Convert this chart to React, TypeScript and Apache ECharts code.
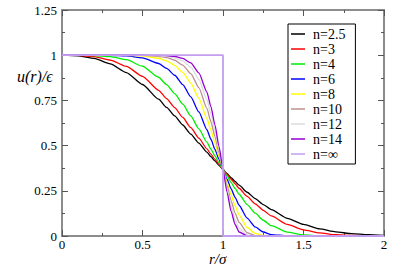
import React, { useEffect, useRef } from "react";
import * as echarts from "echarts";

const rValues = [0, 0.1, 0.2, 0.3, 0.4, 0.5, 0.6, 0.65, 0.7, 0.75, 0.8, 0.85, 0.9, 0.925, 0.95, 0.975, 1.0, 1.025, 1.05, 1.075, 1.1, 1.15, 1.2, 1.25, 1.3, 1.4, 1.5, 1.6, 1.7, 1.8, 1.9, 2.0];

const uN25 = [1, 0.997, 0.982, 0.952, 0.904, 0.838, 0.757, 0.711, 0.664, 0.614, 0.564, 0.514, 0.464, 0.439, 0.415, 0.391, 0.368, 0.345, 0.323, 0.302, 0.281, 0.242, 0.207, 0.174, 0.146, 0.098, 0.064, 0.039, 0.023, 0.013, 0.007, 0.003];
const uN3 = [1, 0.999, 0.992, 0.973, 0.938, 0.883, 0.806, 0.76, 0.71, 0.656, 0.599, 0.541, 0.482, 0.453, 0.424, 0.396, 0.368, 0.341, 0.314, 0.289, 0.264, 0.219, 0.178, 0.142, 0.111, 0.064, 0.034, 0.017, 0.007, 0.003, 0.001, 0.0003];
const uN4 = [1, 1, 0.998, 0.992, 0.975, 0.939, 0.878, 0.837, 0.787, 0.729, 0.664, 0.593, 0.519, 0.481, 0.443, 0.405, 0.368, 0.332, 0.297, 0.263, 0.231, 0.174, 0.126, 0.087, 0.057, 0.021, 0.006, 0.001, 0.0002, 0, 0, 0];
const uN6 = [1, 1, 1, 0.999, 0.996, 0.985, 0.954, 0.927, 0.889, 0.837, 0.769, 0.686, 0.588, 0.535, 0.479, 0.424, 0.368, 0.314, 0.262, 0.214, 0.17, 0.099, 0.05, 0.022, 0.008, 0.0005, 0, 0, 0, 0, 0, 0];
const uN8 = [1, 1, 1, 1, 0.999, 0.996, 0.983, 0.969, 0.944, 0.905, 0.846, 0.761, 0.65, 0.585, 0.515, 0.442, 0.368, 0.296, 0.228, 0.168, 0.117, 0.047, 0.014, 0.003, 0.0003, 0, 0, 0, 0, 0, 0, 0];
const uN10 = [1, 1, 1, 1, 1, 0.999, 0.994, 0.987, 0.972, 0.945, 0.898, 0.821, 0.706, 0.632, 0.55, 0.46, 0.368, 0.278, 0.196, 0.127, 0.075, 0.018, 0.002, 0.0001, 0, 0, 0, 0, 0, 0, 0, 0];
const uN12 = [1, 1, 1, 1, 1, 1, 0.998, 0.994, 0.986, 0.969, 0.934, 0.867, 0.754, 0.675, 0.583, 0.478, 0.368, 0.261, 0.166, 0.092, 0.043, 0.005, 0.0001, 0, 0, 0, 0, 0, 0, 0, 0, 0];
const uN14 = [1, 1, 1, 1, 1, 1, 0.999, 0.998, 0.993, 0.982, 0.957, 0.902, 0.796, 0.715, 0.614, 0.496, 0.368, 0.243, 0.138, 0.064, 0.022, 0.001, 0, 0, 0, 0, 0, 0, 0, 0, 0, 0];

const stepR = [0, 1, 1, 2];
const stepU = [1, 1, 0, 0];

const seriesNames = ["n=2.5", "n=3", "n=4", "n=6", "n=8", "n=10", "n=12", "n=14", "n=∞"];
const seriesColors = ["#000000", "#ff0000", "#00ee00", "#0000ff", "#ffff00", "#bc8f8f", "#dcdcdc", "#9400d3", "#c39ef0"];
const curves = [uN25, uN3, uN4, uN6, uN8, uN10, uN12, uN14];

const xTicks = [0, 0.5, 1, 1.5, 2];
const yTicks = [0, 0.25, 0.5, 0.75, 1, 1.25];

const FONT = "Liberation Serif";

export default function App() {
  const ref = useRef<HTMLDivElement>(null);
  useEffect(() => {
    if (!ref.current) return;
    const chart = echarts.init(ref.current, null, { renderer: "svg" });
    const axisCommon = {
      type: "value" as const,
      axisLine: { show: true, onZero: false, lineStyle: { color: "#8c8c8c", width: 2 } },
      axisTick: { show: true, inside: true, length: 6, lineStyle: { color: "#555", width: 1 } },
      minorTick: { show: true, splitNumber: 2, length: 3, lineStyle: { color: "#555", width: 1 } },
      splitLine: { show: false },
    };
    const series: any[] = curves.map((c, i) => ({
      name: seriesNames[i],
      type: "line",
      xAxisIndex: 0,
      yAxisIndex: 0,
      data: rValues.map((r, k) => [r, c[k]]),
      showSymbol: false,
      symbol: "none",
      smooth: 0.2,
      smoothMonotone: "x",
      lineStyle: { color: seriesColors[i], width: 1.3 },
      itemStyle: { color: seriesColors[i] },
    }));
    series.push({
      name: seriesNames[8],
      type: "line",
      xAxisIndex: 0,
      yAxisIndex: 0,
      data: stepR.map((r, k) => [r, stepU[k]]),
      showSymbol: false,
      symbol: "none",
      lineStyle: { color: seriesColors[8], width: 1.8 },
      itemStyle: { color: seriesColors[8] },
    });
    chart.setOption({
      animation: false,
      backgroundColor: "#ffffff",
      textStyle: { fontFamily: FONT },
      grid: { left: 62, right: 10, top: 10, bottom: 32 },
      xAxis: [
        {
          ...axisCommon,
          position: "bottom",
          min: 0,
          max: 2,
          interval: 0.5,
          axisLabel: {
            show: true,
            margin: 2,
            color: "#000",
            fontFamily: FONT,
            fontSize: 13,
            formatter: (v: number) => (xTicks.includes(v) ? String(v) : ""),
          },
        },
        {
          ...axisCommon,
          position: "top",
          min: 0,
          max: 2,
          interval: 0.5,
          axisLabel: { show: false },
        },
      ],
      yAxis: [
        {
          ...axisCommon,
          position: "left",
          min: 0,
          max: 1.25,
          interval: 0.25,
          axisLabel: {
            show: true,
            margin: 5,
            color: "#000",
            fontFamily: FONT,
            fontSize: 13,
            formatter: (v: number) => (yTicks.includes(v) ? String(v) : ""),
          },
        },
        {
          ...axisCommon,
          position: "right",
          min: 0,
          max: 1.25,
          interval: 0.25,
          axisLabel: { show: false },
        },
      ],
      legend: {
        show: true,
        orient: "vertical",
        left: 288,
        top: 24,
        data: seriesNames,
        icon: "rect",
        itemWidth: 14,
        itemHeight: 1.5,
        itemGap: 1,
        padding: [3, 10, 3, 3],
        borderColor: "#000",
        borderWidth: 1,
        backgroundColor: "#fff",
        selectedMode: false,
        textStyle: { fontFamily: FONT, fontSize: 14, lineHeight: 12.5, color: "#000", padding: [0, 0, 0, 3] },
      },
      graphic: [
        {
          type: "text",
          left: 209,
          top: 251,
          style: { text: "r/σ", fontFamily: FONT, fontStyle: "italic", fontSize: 15, fill: "#000" },
        },
        {
          type: "text",
          left: 17,
          top: 68,
          style: { text: "u(r)/ϵ", fontFamily: FONT, fontStyle: "italic", fontSize: 16, fill: "#000" },
        },
      ],
      series,
    });
    return () => chart.dispose();
  }, []);
  return <div ref={ref} style={{ width: 394, height: 268, position: "absolute", left: 0, top: 0 }} />;
}
